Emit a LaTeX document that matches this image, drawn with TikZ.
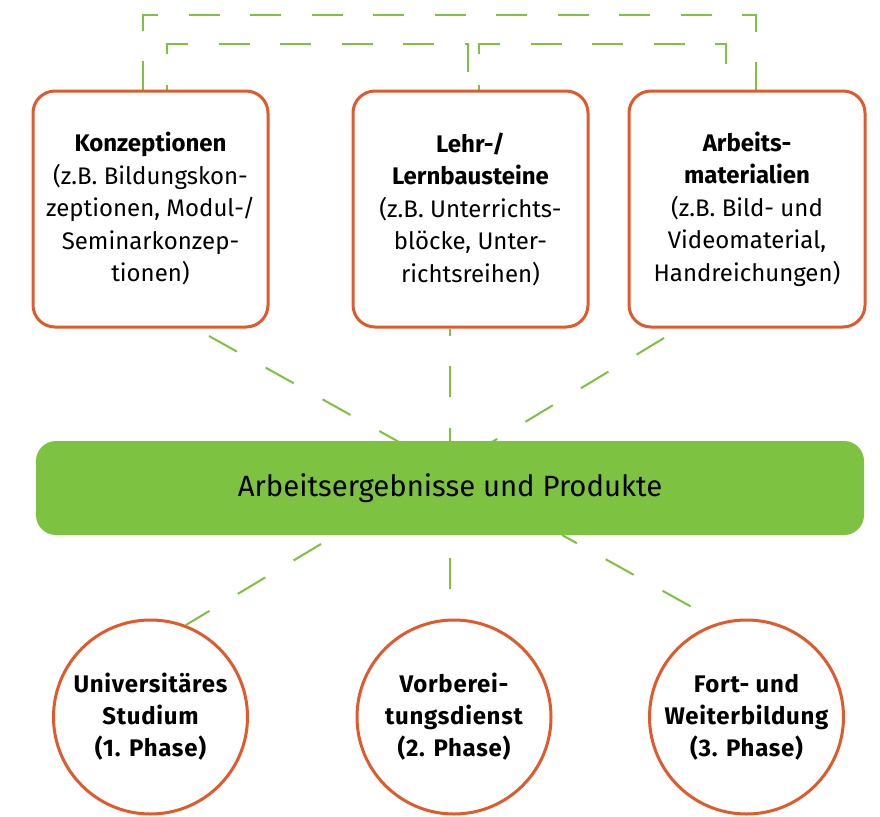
\documentclass[tikz,border=0pt]{standalone}
\usepackage{fontspec}
\setmainfont{Fira Sans}
\usetikzlibrary{backgrounds}
\definecolor{rahmen}{RGB}{224,90,43}
\definecolor{gruen}{RGB}{126,194,66}
\begin{document}
\begin{tikzpicture}[x=1pt,y=-1pt,
  feld/.style={draw=rahmen, line width=3pt, fill=white, rounded corners=22pt,
    minimum width=235pt, minimum height=236pt, align=center, inner sep=0pt,
    font=\fontsize{24}{32.5}\selectfont},
  kreis/.style={circle, draw=rahmen, line width=3pt, fill=white,
    minimum size=194pt, inner sep=0pt, align=center,
    font=\fontsize{24}{32}\selectfont\bfseries\addfontfeatures{LetterSpace=3}},
  balken/.style={fill=gruen, rounded corners=20pt, minimum width=828pt,
    minimum height=94pt, inner sep=0pt, font=\fontsize{29.3}{34}\selectfont},
  strich/.style={draw=gruen, line width=2pt, dash pattern=on 31pt off 30.5pt},
  schraeg/.style={draw=gruen, line width=2pt, dash pattern=on 32pt off 33pt}]

% Boxes for the three kinds of products
\node[feld] (b1) at (150.5,209) {\textbf{Konzeptionen}\\(z.B. Bildungskon-\\zeptionen, Modul-/\\Seminarkonzep-\\tionen)};
\node[feld] (b2) at (470.5,209) {\textbf{Lehr-/}\\\textbf{Lernbausteine}\\(z.B. Unterrichts-\\blöcke, Unter-\\richtsreihen)};
\node[feld, minimum width=236pt] (b3) at (747,209) {\textbf{Arbeits-}\\\textbf{materialien}\\(z.B. Bild- und\\Videomaterial,\\Handreichungen)};

% Central bar
\node[balken] (bar) at (450,488) {Arbeitsergebnisse und Produkte};

% The three phases
\node[kreis] (c1) at (150.5,717) {Universitäres\\Studium\\(1. Phase)};
\node[kreis] (c2) at (454,717) {Vorberei-\\tungsdienst\\(2. Phase)};
\node[kreis] (c3) at (746.5,717) {Fort- und\\Weiterbildung\\(3. Phase)};

% Corner points of the links above the boxes
\coordinate (oL) at (143,15);
\coordinate (oR) at (756,15);
\coordinate (iA) at (167,44);
\coordinate (iB) at (468,44);
\coordinate (iC) at (479,44);
\coordinate (iD) at (726,44);
% Free ends of the slanted links
\coordinate (l1a) at (209,336);
\coordinate (l1b) at (399,442);
\coordinate (l3a) at (664,338);
\coordinate (l3b) at (492,442);
\coordinate (u1a) at (321,544);
\coordinate (u3a) at (562,535);
\coordinate (mid) at (450,488);

\begin{scope}[on background layer]
  \fill[white] (0,0) rectangle (880,816);
  % links between the boxes
  \draw[strich, dash phase=3pt] (b1.north -| oL) -- (oL) -- (oR) -- (b3.north -| oR);
  \draw[strich, dash phase=26pt] (b1.north -| iA) -- (iA) -- (iB) -- (b2.north -| iB);
  \draw[strich, dash phase=26pt] (b2.north -| iC) -- (iC) -- (iD) -- (b3.north -| iD);
  % links from the boxes to the bar
  \draw[schraeg] (l1a) -- (l1b);
  \draw[strich, dash phase=24pt] (b2.south -| mid) -- (bar.north -| mid);
  \draw[schraeg] (l3a) -- (l3b);
  % links from the bar to the phases
  \draw[schraeg] (u1a) -- (c1.69);
  \draw[strich, dash phase=39pt] (bar.south -| mid) -- (c2.north -| mid);
  \draw[schraeg, dash phase=15pt] (u3a) -- (c3.106);
\end{scope}
\end{tikzpicture}
\end{document}
